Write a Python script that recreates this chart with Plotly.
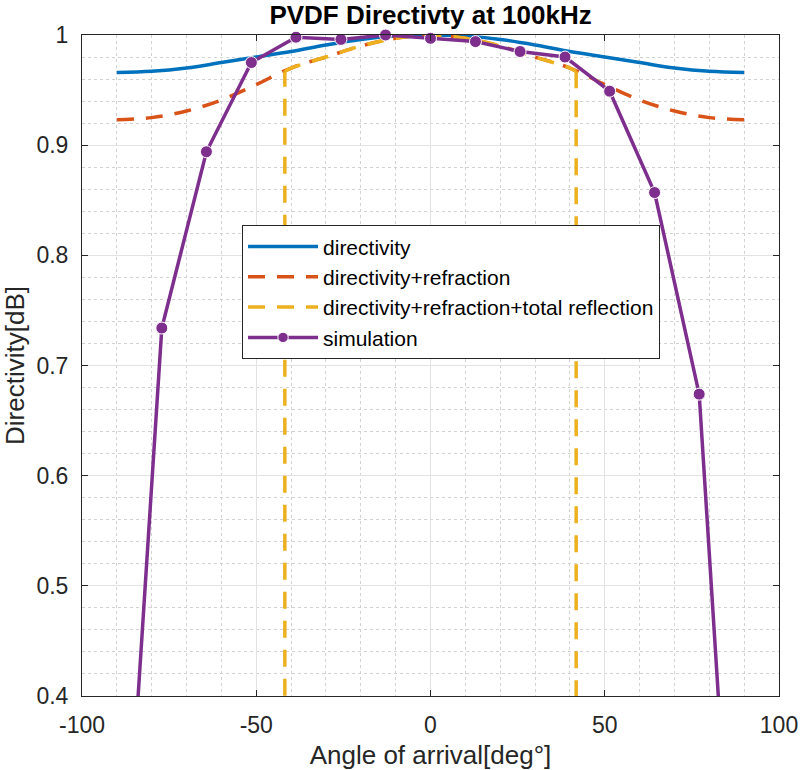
import plotly.graph_objects as go

# Model curves sampled every 10 degrees
angle_model = [-90, -80, -70, -60, -50, -40, -30, -20, -10, 0,
               10, 20, 30, 40, 50, 60, 70, 80, 90]
directivity = [0.966, 0.967, 0.970, 0.975, 0.980, 0.985, 0.991, 0.996, 0.999, 1.000,
               0.999, 0.996, 0.991, 0.985, 0.980, 0.975, 0.970, 0.967, 0.966]
dir_refraction = [0.923, 0.925, 0.931, 0.941, 0.955, 0.970, 0.980, 0.990, 0.997, 1.000,
                  0.997, 0.990, 0.980, 0.970, 0.955, 0.941, 0.931, 0.925, 0.923]

# Total reflection beyond the critical angle (about 41.8 deg)
angle_tr = [-90, -41.8, -41.8, -40, -30, -20, -10, 0, 10, 20, 30, 40, 41.8, 41.8, 90]
dir_total_refl = [0.0, 0.0, 0.967, 0.970, 0.980, 0.990, 0.997, 1.000,
                  0.997, 0.990, 0.980, 0.970, 0.967, 0.0, 0.0]

# Simulated directivity
angle_sim = [-90, -77.1, -64.3, -51.4, -38.6, -25.7, -12.9, 0,
             12.9, 25.7, 38.6, 51.4, 64.3, 77.1, 90]
sim = [0.10, 0.734, 0.894, 0.975, 0.998, 0.996, 1.000, 0.997,
       0.994, 0.985, 0.980, 0.949, 0.857, 0.674, 0.03]

x_ticks = [-100, -50, 0, 50, 100]
x_tick_text = ["-100", "-50", "0", "50", "100"]
y_ticks = [0.4, 0.5, 0.6, 0.7, 0.8, 0.9, 1.0]
y_tick_text = ["0.4", "0.5", "0.6", "0.7", "0.8", "0.9", "1"]

BLUE = "#0072BD"
ORANGE = "#D95319"
YELLOW = "#EDB120"
PURPLE = "#7E2F8E"
FONT = "Liberation Sans, Arial, sans-serif"
TXT = "#262626"
DASH = "17px,12px"

fig = go.Figure()
fig.add_trace(go.Scatter(x=angle_model, y=directivity, mode="lines",
                         name="directivity",
                         line=dict(color=BLUE, width=3.5, shape="spline")))
fig.add_trace(go.Scatter(x=angle_model, y=dir_refraction, mode="lines",
                         name="directivity+refraction",
                         line=dict(color=ORANGE, width=3.5, dash=DASH, shape="spline")))

# total-reflection curve: smooth top part plus the two vertical drops
yl = dict(color=YELLOW, width=3.5, dash=DASH)
fig.add_trace(go.Scatter(x=angle_tr[2:13], y=dir_total_refl[2:13], mode="lines",
                         name="directivity+refraction+total reflection",
                         legendgroup="tr", line=dict(yl, shape="spline")))
fig.add_trace(go.Scatter(x=angle_tr[0:3], y=dir_total_refl[0:3], mode="lines",
                         legendgroup="tr", showlegend=False, line=yl))
fig.add_trace(go.Scatter(x=angle_tr[12:], y=dir_total_refl[12:], mode="lines",
                         legendgroup="tr", showlegend=False, line=yl))

fig.add_trace(go.Scatter(x=angle_sim, y=sim, mode="lines+markers", name="simulation",
                         line=dict(color=PURPLE, width=3.5),
                         marker=dict(color=PURPLE, opacity=1,
                                     size=[0] + [12] * 13 + [0]),
                         cliponaxis=False))

axis_common = dict(
    showline=True, linecolor=TXT, linewidth=1, mirror="ticks",
    ticks="inside", ticklen=6, tickcolor=TXT,
    showgrid=True, gridcolor="#e3e3e3", gridwidth=1,
    zeroline=False, automargin=False,
    tickfont=dict(family=FONT, size=23, color=TXT),
)

fig.update_xaxes(range=[-100, 100], tickvals=x_ticks, ticktext=x_tick_text,
                 ticklabelstandoff=8,
                 minor=dict(dtick=10, tick0=0, showgrid=True, gridcolor="#d2d2d2",
                            griddash="dot", gridwidth=1, ticks=""),
                 title=dict(text="Angle of arrival[deg°]", standoff=10,
                            font=dict(family=FONT, size=26, color=TXT)),
                 **axis_common)
fig.update_yaxes(range=[0.4, 1.0], tickvals=y_ticks, ticktext=y_tick_text,
                 ticklabelstandoff=8,
                 minor=dict(dtick=0.02, tick0=0.4, showgrid=True, gridcolor="#d2d2d2",
                            griddash="dot", gridwidth=1, ticks=""),
                 title=dict(text="Directivity[dB]", standoff=10,
                            font=dict(family=FONT, size=26, color=TXT)),
                 **axis_common)

fig.update_layout(
    width=801, height=770,
    margin=dict(l=82, r=22, t=35, b=74),
    paper_bgcolor="white", plot_bgcolor="white",
    title=dict(text="<b>PVDF Directivty at 100kHz</b>", x=0.5375, xanchor="center",
               y=0.981, yanchor="middle",
               font=dict(family=FONT, size=26, color="black")),
    legend=dict(x=0.2296, y=0.712, xanchor="left", yanchor="top",
                traceorder="normal", tracegroupgap=0,
                bgcolor="white", bordercolor=TXT, borderwidth=1,
                itemwidth=70, font=dict(family=FONT, size=21, color="black")),
    font=dict(family=FONT),
)

fig.write_html("out.html")
